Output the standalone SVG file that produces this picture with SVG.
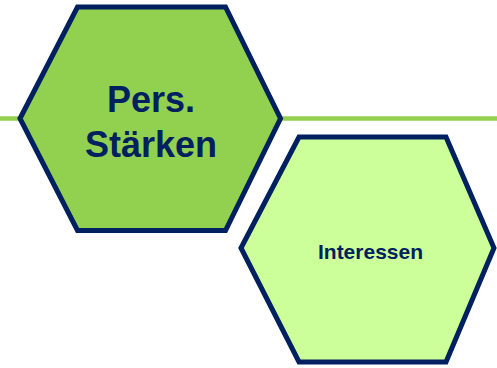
<svg xmlns="http://www.w3.org/2000/svg" width="497" height="368" viewBox="0 0 497 368">
<style>
.hex{stroke:#002060;stroke-width:5;stroke-linejoin:miter}
.lbl{font-family:"Liberation Sans",Arial,sans-serif;font-weight:bold;fill:#002060;text-anchor:middle}
</style>
<rect width="497" height="368" fill="#ffffff"/>
<g id="connectors">
<line x1="0" y1="118.5" x2="497" y2="118.5" stroke="#92D050" stroke-width="4.5"/>
</g>
<g id="node-staerken">
<polygon class="hex" fill="#92D050" points="20,118.5 77.5,7 225.5,7 280.5,118.5 225.5,230.5 77.5,230.5"/>
<text class="lbl" x="151" y="112" font-size="36">Pers.</text>
<text class="lbl" x="151" y="156.5" font-size="36">Stärken</text>
</g>
<g id="node-interessen">
<polygon class="hex" fill="#CCFF99" points="241,248 299,137 446,137 494,248 446,362 299,362"/>
<text class="lbl" x="370.5" y="259" font-size="21">Interessen</text>
</g>
</svg>
